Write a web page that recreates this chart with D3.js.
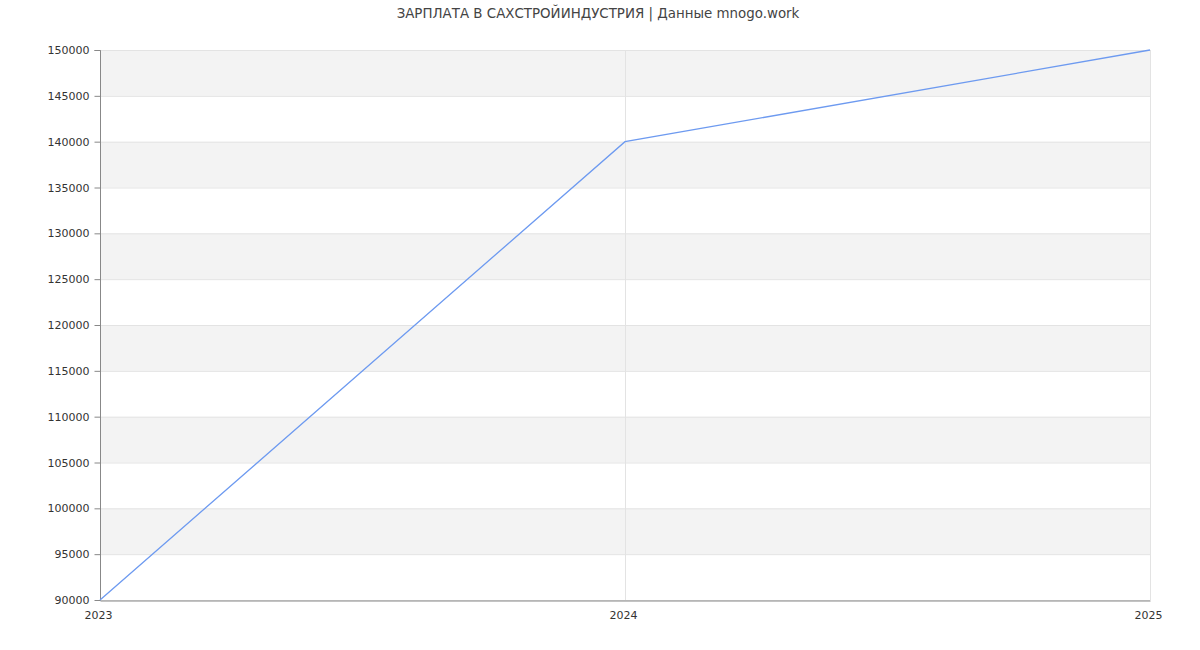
<!DOCTYPE html>
<html><head><meta charset="utf-8">
<script src="https://cdn.jsdelivr.net/npm/d3@7"></script>
<style>body{margin:0;background:#fff;} svg{display:block;font-family:"DejaVu Sans",sans-serif;}</style>
</head><body><svg id="c" width="1200" height="650"></svg>
<script>
const title = "ЗАРПЛАТА В САХСТРОЙИНДУСТРИЯ | Данные mnogo.work";
const years = [2023, 2024, 2025];
const salaries = [90000, 140000, 150000];
const yTicks = [90000,95000,100000,105000,110000,115000,120000,125000,130000,135000,140000,145000,150000];

const svg = d3.select("#c");
const m = {l:100, r:1150, t:50, b:600};
const x = d3.scaleLinear().domain([2023, 2025]).range([m.l, m.r]);
const y = d3.scaleLinear().domain([90000, 150000]).range([m.b, m.t]);

// bands
for (let i = 0; i < yTicks.length - 1; i++) {
  const lo = yTicks[i], hi = yTicks[i+1];
  const idxFromTop = yTicks.length - 2 - i;
  svg.append("rect").attr("x", m.l).attr("width", m.r - m.l)
    .attr("y", y(hi)).attr("height", y(lo) - y(hi))
    .attr("fill", idxFromTop % 2 === 0 ? "#f3f3f3" : "#ffffff");
}
// horizontal grid
svg.append("g").selectAll("line").data(yTicks).join("line")
  .attr("x1", m.l).attr("x2", m.r).attr("y1", d => y(d) + 0.5).attr("y2", d => y(d) + 0.5)
  .attr("stroke", "#e3e3e3");
// vertical grid
svg.append("g").selectAll("line").data(years.slice(1)).join("line")
  .attr("x1", d => Math.round(x(d)) + 0.5).attr("x2", d => Math.round(x(d)) + 0.5)
  .attr("y1", m.t).attr("y2", m.b).attr("stroke", "#e3e3e3");

// y axis
const ya = svg.append("g").attr("transform", `translate(${m.l + 0.5},0)`)
  .call(d3.axisLeft(y).tickValues(yTicks).tickFormat(d3.format("d")).tickSize(6));
ya.select(".domain").attr("stroke", "#888").attr("d", `M-6,${m.t+0.5}H0V${m.b+0.5}`);
ya.selectAll(".tick line").attr("stroke", "#888");
ya.selectAll(".tick text").attr("fill", "#333").attr("font-size", 11).attr("font-family", "DejaVu Sans, sans-serif").attr("x", -11);

// x axis
const xa = svg.append("g").attr("transform", `translate(0,${m.b + 0.5})`)
  .call(d3.axisBottom(x).tickValues(years).tickFormat(d3.format("d")).tickSize(0));
xa.select(".domain").attr("stroke", "#888");
xa.selectAll(".tick text").attr("fill", "#333").attr("font-size", 11).attr("font-family", "DejaVu Sans, sans-serif").attr("dy", "0").attr("y", 18).attr("x", -2);

// line
const line = d3.line().x((d,i) => x(years[i])).y(d => y(d));
svg.append("path").datum(salaries).attr("d", line)
  .attr("fill", "none").attr("stroke", "#6d9af0").attr("stroke-width", 1.3);

// title
svg.append("text").attr("x", 598).attr("y", 18).attr("text-anchor", "middle")
  .attr("font-size", 13.4).attr("fill", "#444").text(title);
</script></body></html>
